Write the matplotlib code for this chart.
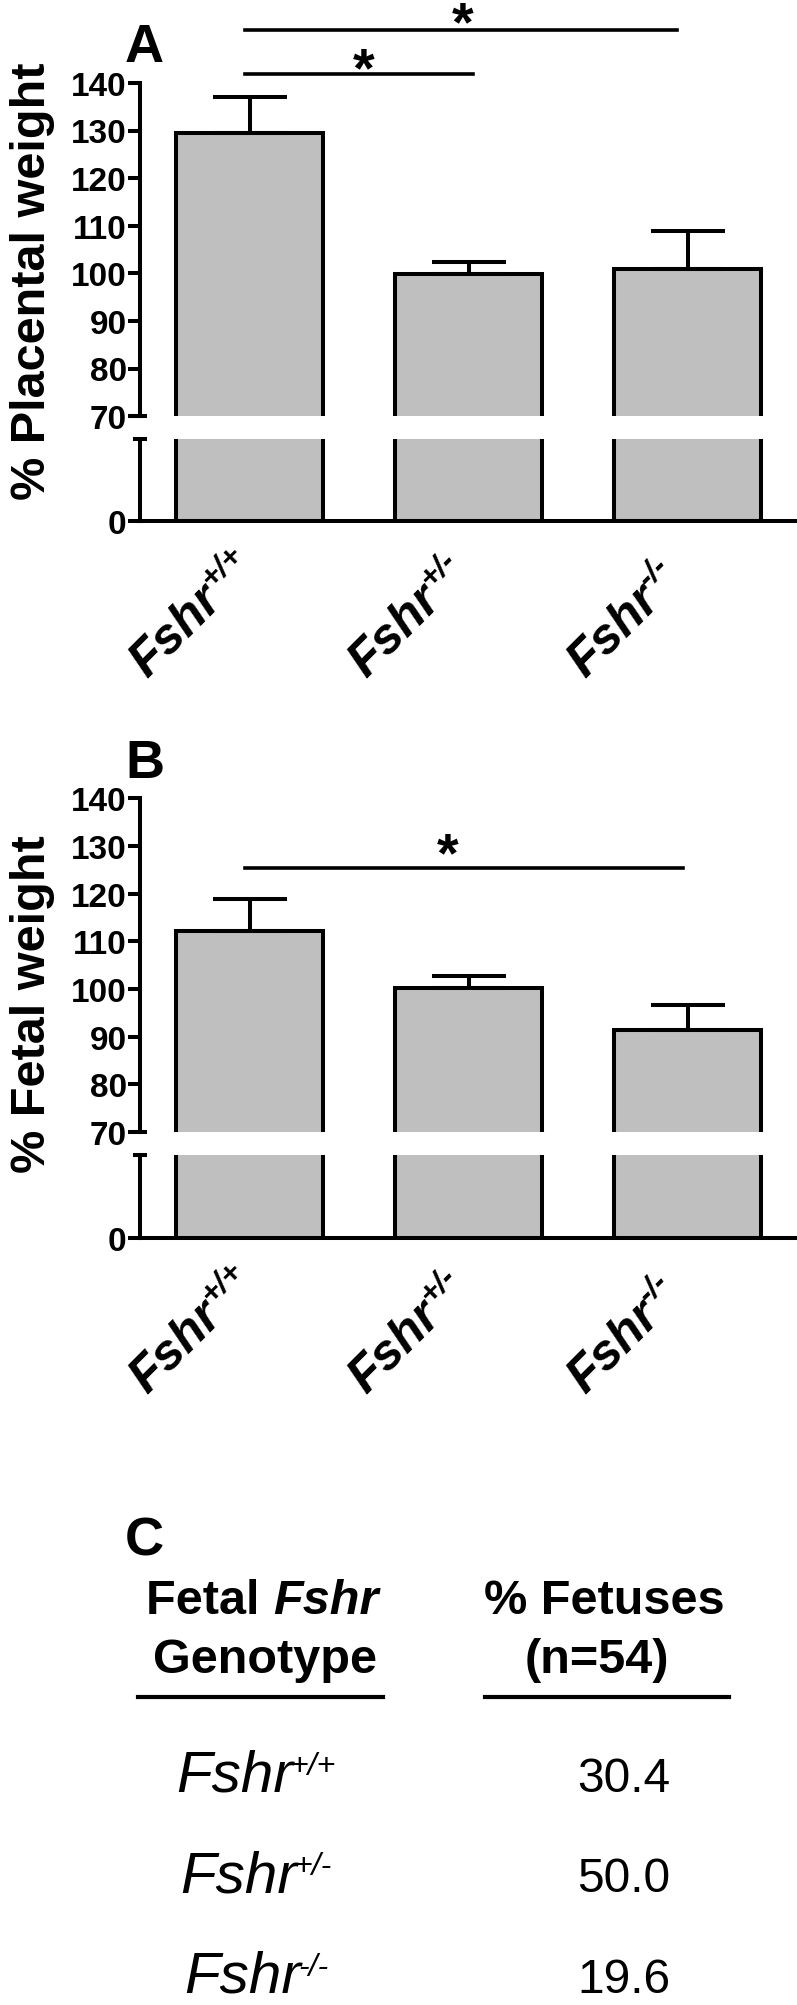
import matplotlib.pyplot as plt
from matplotlib.lines import Line2D
from matplotlib.transforms import offset_copy

plt.rcParams['font.family'] = ['Liberation Sans', 'DejaVu Sans']

# data
genotypes = ['+/+', '+/-', '-/-']
placental = [129.5, 99.9, 101.0]
placental_sem = [7.6, 2.4, 7.8]
fetal = [112.1, 100.2, 91.4]
fetal_sem = [6.7, 2.6, 5.3]
fetus_pct = [30.4, 50.0, 19.6]

# significance bars: (x start, x end, y of line, x of star, y of star)
sig_a = [(-0.02, 1.95, 151.2, 0.975, 149.2), (-0.02, 1.02, 141.9, 0.52, 139.6)]
sig_b = [(-0.02, 1.98, 125.4, 0.905, 124.9)]

W, H = 797, 2006
fig = plt.figure(figsize=(W / 100, H / 100), dpi=100)
renderer = fig.canvas.get_renderer()
LW = 2.9


def box(left, top, right, bottom):
    return [left / W, 1 - bottom / H, (right - left) / W, (bottom - top) / H]


def panel(top, y70, low_top, y0, vals, sems, sigs, ylabel, ylab_y, letter, letter_y):
    x = range(len(vals))
    up = fig.add_axes(box(140, top, 797, y70))
    lo = fig.add_axes(box(140, low_top, 797, y0))
    px_per_unit = (y70 - top) / 70
    for ax in (up, lo):
        ax.bar(x, vals, width=0.667, color='#bfbfbf', edgecolor='k', lw=LW)
        ax.set_xlim(-0.5, 2.5)
        ax.spines[['top', 'right']].set_visible(False)
        ax.spines['left'].set_linewidth(LW)
        ax.tick_params(axis='y', length=8.6, width=LW, pad=1, labelsize=24)
        ax.patch.set_alpha(0)
    up.errorbar(x, vals, yerr=[[0] * len(vals), sems], fmt='none', ecolor='k',
                elinewidth=LW, capsize=26.6, capthick=LW)
    up.set_ylim(70, 140)
    up.set_yticks(range(70, 141, 10))
    up.spines['bottom'].set_visible(False)
    up.set_xticks([])
    lo.set_ylim(0, (y0 - low_top) / px_per_unit)
    lo.set_yticks([0])
    lo.spines['bottom'].set_linewidth(LW)
    lo.set_xticks([])
    for ax in (up, lo):
        for t in ax.get_yticklabels():
            t.set_fontweight('bold')
    # rotated genotype labels: Fshr with a raised superscript
    for i, g in enumerate(genotypes):
        lo.text(i, 0, 'Fshr', rotation=45, rotation_mode='anchor', ha='right',
                va='baseline', fontsize=36, fontweight='bold', fontstyle='italic',
                transform=offset_copy(lo.transData, fig, x=-18.4, y=-57.6, units='points'),
                clip_on=False)
        lo.text(i, 0, g, rotation=45, rotation_mode='anchor', ha='left',
                va='baseline', fontsize=23, fontweight='bold', fontstyle='italic',
                transform=offset_copy(lo.transData, fig, x=-28.3, y=-47.7, units='points'),
                clip_on=False)
    # axis break marks
    up.plot([-0.008, 0.008], [70, 70], color='k', lw=LW,
            transform=up.get_yaxis_transform(), clip_on=False)
    lo.plot([-0.008, 0.008], [1, 1], color='k', lw=LW,
            transform=lo.transAxes, clip_on=False)
    for x0, x1, yl, xs, ys in sigs:
        up.plot([x0, x1], [yl, yl], color='k', lw=2.6, clip_on=False)
        up.text(xs, ys, '*', ha='center', va='baseline', fontsize=40,
                fontweight='bold', clip_on=False)
    fig.text(45 / W, 1 - ylab_y / H, ylabel, rotation=90, rotation_mode='anchor',
             ha='center', va='baseline', fontsize=35, fontweight='bold')
    fig.text(125 / W, 1 - letter_y / H, letter, ha='left', va='baseline',
             fontsize=39, fontweight='bold')


panel(83.9, 417.1, 440, 522.1, placental, placental_sem, sig_a,
      '% Placental weight', 281.5, 'A', 62)
panel(799.2, 1132.9, 1156.2, 1238.7, fetal, fetal_sem, sig_b,
      '% Fetal weight', 1004.5, 'B', 778)

# panel C: table
fig.text(125 / W, 1 - 1555 / H, 'C', ha='left', va='baseline',
         fontsize=39, fontweight='bold')

# header "Fetal Fshr" with the gene name in italics
t1 = fig.text(0, 1 - 1614 / H, 'Fetal ', ha='left', va='baseline',
              fontsize=35, fontweight='bold')
t2 = fig.text(0, 1 - 1614 / H, 'Fshr', ha='left', va='baseline',
              fontsize=35, fontweight='bold', fontstyle='italic')
w1 = t1.get_window_extent(renderer).width
w2 = t2.get_window_extent(renderer).width
x0 = 262 - (w1 + w2) / 2
t1.set_x(x0 / W)
t2.set_x((x0 + w1) / W)

fig.text(265 / W, 1 - 1673 / H, 'Genotype', ha='center', va='baseline',
         fontsize=35, fontweight='bold')
fig.text(604 / W, 1 - 1614 / H, '% Fetuses', ha='center', va='baseline',
         fontsize=35, fontweight='bold')
fig.text(597 / W, 1 - 1673 / H, '(n=54)', ha='center', va='baseline',
         fontsize=35, fontweight='bold')
fig.add_artist(Line2D([138 / W, 383 / W], [1 - 1698 / H] * 2, color='k', lw=3))
fig.add_artist(Line2D([485 / W, 729 / W], [1 - 1698 / H] * 2, color='k', lw=3))

for i, (g, p) in enumerate(zip(genotypes, fetus_pct)):
    yb = 1792 + 100.5 * i
    tm = fig.text(0, 1 - yb / H, 'Fshr', ha='left', va='baseline',
                  fontsize=42, fontstyle='italic')
    ts = fig.text(0, 1 - (yb - 17) / H, g, ha='left', va='baseline',
                  fontsize=23, fontstyle='italic')
    wm = tm.get_window_extent(renderer).width
    ws = ts.get_window_extent(renderer).width
    x0 = 257.5 - (wm + ws) / 2
    tm.set_x(x0 / W)
    ts.set_x((x0 + wm - 3) / W)
    fig.text(624 / W, 1 - yb / H, '%.1f' % p, ha='center', va='baseline', fontsize=34.5)

fig.savefig('out.png', dpi=100)
